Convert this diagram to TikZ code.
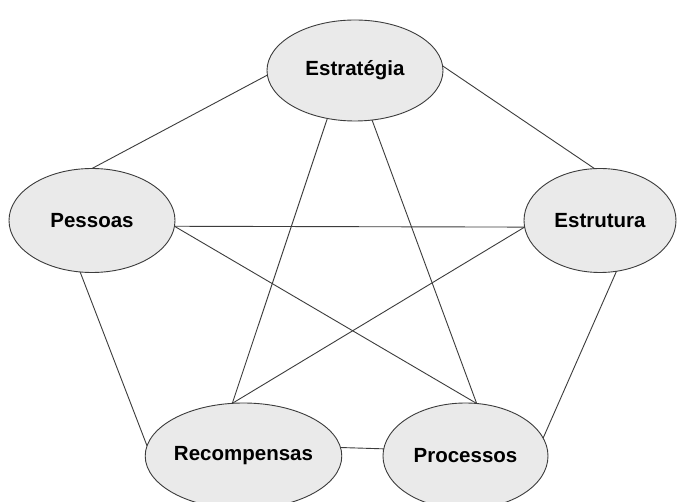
\documentclass[tikz,border=0pt]{standalone}
\usepackage{fontspec}
\setmainfont{Liberation Sans}
\usetikzlibrary{shapes.geometric}
\definecolor{nodefill}{RGB}{234,234,234}
\definecolor{edgecol}{RGB}{60,60,60}
\tikzset{
  bubble/.style={ellipse, draw=edgecol, line width=0.9pt, fill=nodefill, inner sep=0pt, outer sep=0pt,
    font=\fontsize{20.5}{23}\selectfont\bfseries},
  link/.style={draw=edgecol, line width=0.9pt}
}
\begin{document}
\begin{tikzpicture}[x=1pt,y=-1pt]
\useasboundingbox (0,0) rectangle (678,502);
\fill[white] (0,0) rectangle (678,502);
\node[bubble, minimum width=176pt, minimum height=101pt] (est) at (355,70.5) {Estratégia};
\node[bubble, minimum width=166pt, minimum height=104pt] (pes) at (92,220.5) {Pessoas};
\node[bubble, minimum width=152pt, minimum height=104pt] (etu) at (600,220.5) {Estrutura};
\node[bubble, minimum width=163pt, minimum height=106pt] (rec) at (243.5,456) {Recompensas};
\node[bubble, minimum width=165pt, minimum height=106pt] (pro) at (465.5,456) {Processos};
\draw[link] (est.183) -- (pes.90);
\draw[link] (est.3) -- (etu.96.5);
\draw[link] (est.240) -- (rec.102);
\draw[link] (est.289) -- (pro.78);
\draw[link] (pes.356) -- (etu.185);
\draw[link] (pes.356) -- (pro.78);
\draw[link] (pes.257) -- (rec.174);
\draw[link] (etu.185) -- (rec.102);
\draw[link] (etu.288) -- (pro.13);
\draw[link] (rec.5) -- (pro.175);
\end{tikzpicture}
\end{document}
